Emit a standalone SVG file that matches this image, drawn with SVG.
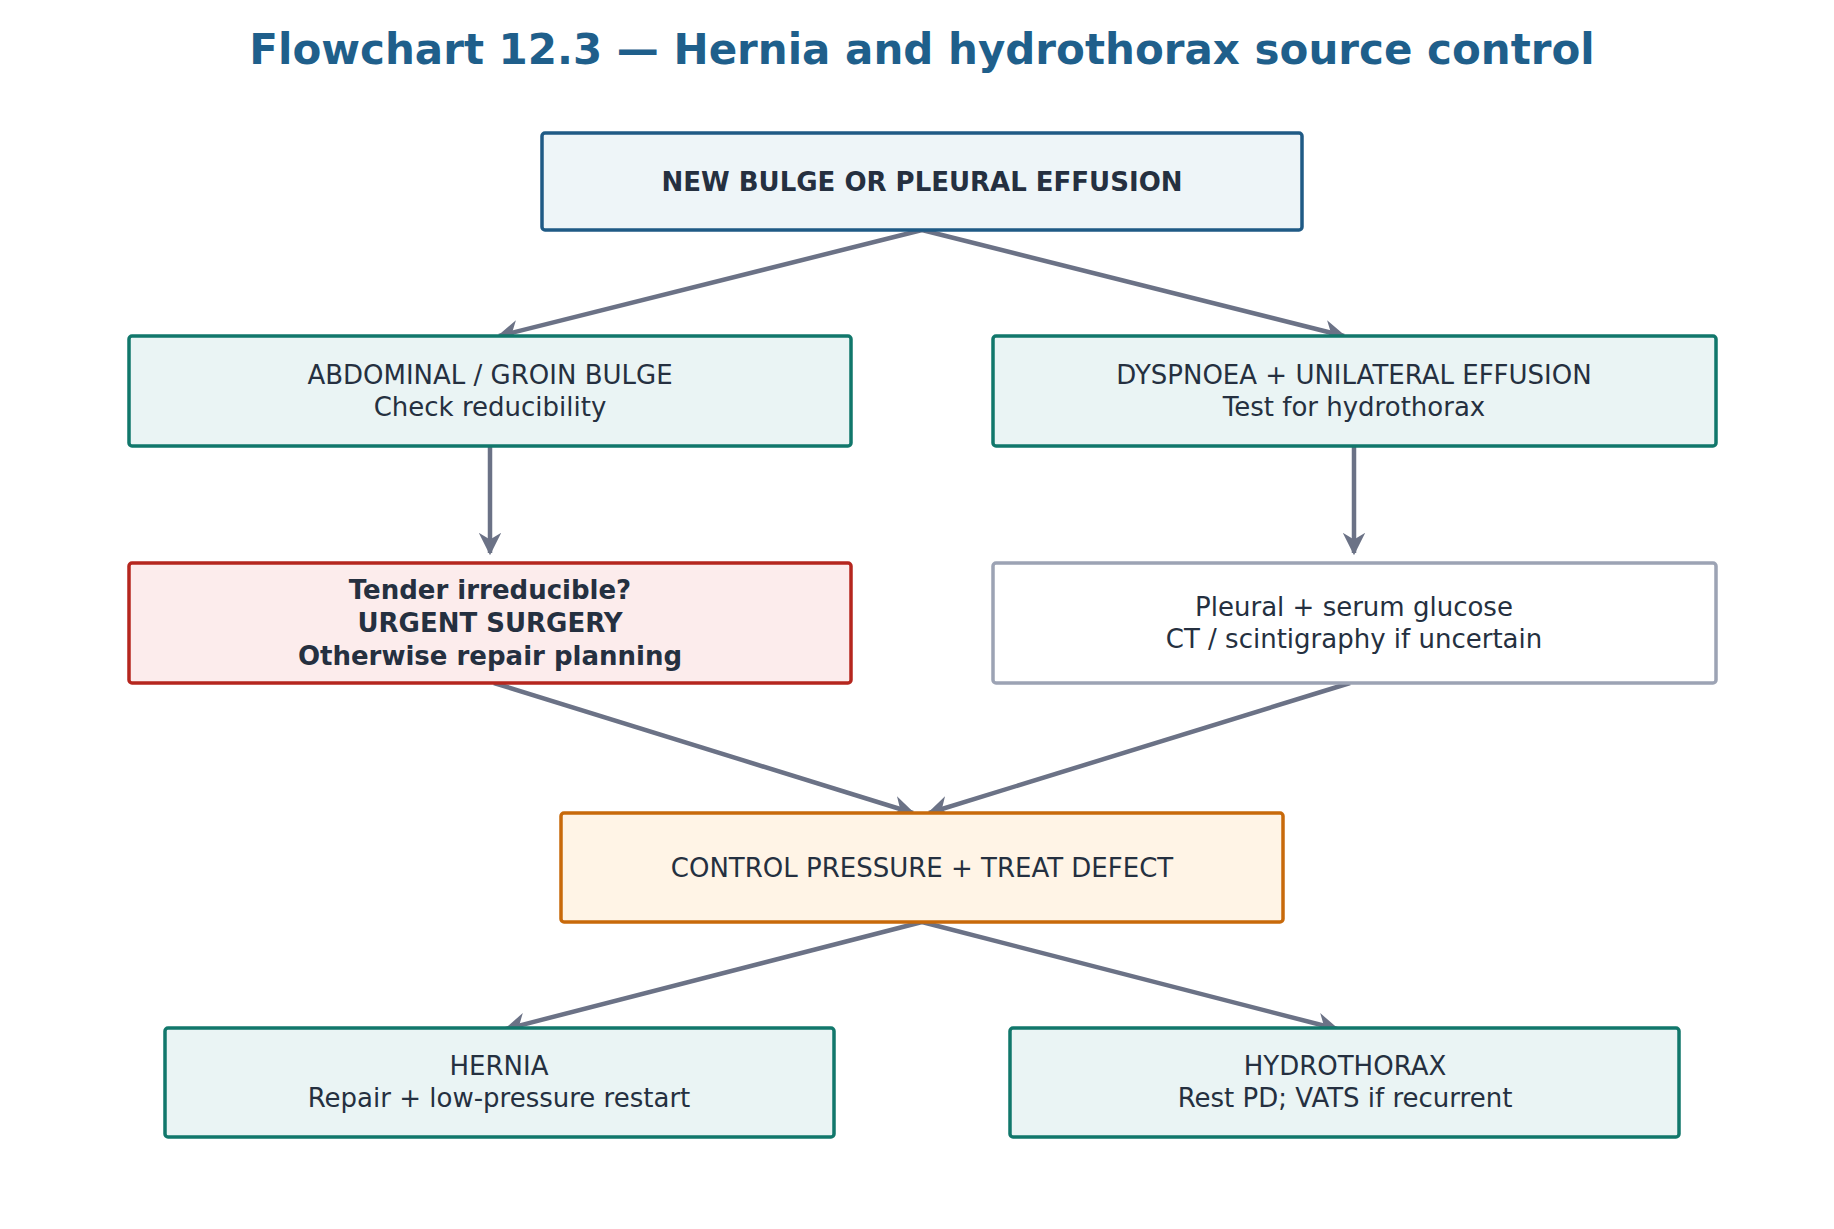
<svg xmlns="http://www.w3.org/2000/svg" width="1834" height="1229" viewBox="0 0 1834 1229">
<style>
text{font-family:"DejaVu Sans","Noto Sans",sans-serif;fill:#253040;text-anchor:middle;font-size:26px}
.b{font-weight:bold}
rect{stroke-width:3.5}
.teal{fill:#eaf4f4;stroke:#11776b}
.conn line{stroke:#6b7286;stroke-width:4.5;marker-end:url(#ah)}
</style>
<defs><marker id="ah" viewBox="0 0 10 10" refX="9" refY="5" markerWidth="5" markerHeight="5" orient="auto" markerUnits="strokeWidth"><path d="M0,0 L10,5 L0,10 L3,5 z" fill="#6b7286"/></marker></defs>
<rect width="1834" height="1229" fill="#fff"/>
<text x="922" y="64" class="b" style="font-size:42px;fill:#1f5f8b">Flowchart 12.3 — Hernia and hydrothorax source control</text>
<g class="conn">
<line x1="922" y1="230" x2="499" y2="336"/>
<line x1="922" y1="230" x2="1344" y2="336"/>
<line x1="490" y1="446" x2="490" y2="553"/>
<line x1="1354" y1="446" x2="1354" y2="553"/>
<line x1="494" y1="683" x2="913" y2="813"/>
<line x1="1350" y1="683" x2="929" y2="813"/>
<line x1="922" y1="922" x2="506" y2="1029"/>
<line x1="922" y1="922" x2="1337" y2="1029"/>
</g>
<g id="n1"><rect x="542" y="133" width="760" height="97" rx="3" fill="#eef5f8" stroke="#1f5a85"/><text x="922" y="191" class="b">NEW BULGE OR PLEURAL EFFUSION</text></g>
<g id="n2"><rect x="129" y="336" width="722" height="110" rx="3" class="teal"/><text x="490" y="384">ABDOMINAL / GROIN BULGE</text><text x="490" y="416">Check reducibility</text></g>
<g id="n3"><rect x="993" y="336" width="723" height="110" rx="3" class="teal"/><text x="1354" y="384">DYSPNOEA + UNILATERAL EFFUSION</text><text x="1354" y="416">Test for hydrothorax</text></g>
<g id="n4"><rect x="129" y="563" width="722" height="120" rx="3" fill="#fcecec" stroke="#b5261e"/><text x="490" y="599" class="b">Tender irreducible?</text><text x="490" y="632" class="b">URGENT SURGERY</text><text x="490" y="665" class="b">Otherwise repair planning</text></g>
<g id="n5"><rect x="993" y="563" width="723" height="120" rx="3" fill="#fff" stroke="#9ca3b4"/><text x="1354" y="616">Pleural + serum glucose</text><text x="1354" y="648">CT / scintigraphy if uncertain</text></g>
<g id="n6"><rect x="561" y="813" width="722" height="109" rx="3" fill="#fff4e6" stroke="#c8690a"/><text x="922" y="877">CONTROL PRESSURE + TREAT DEFECT</text></g>
<g id="n7"><rect x="165" y="1028" width="669" height="109" rx="3" class="teal"/><text x="499" y="1075">HERNIA</text><text x="499" y="1107">Repair + low-pressure restart</text></g>
<g id="n8"><rect x="1010" y="1028" width="669" height="109" rx="3" class="teal"/><text x="1345" y="1075">HYDROTHORAX</text><text x="1345" y="1107">Rest PD; VATS if recurrent</text></g>
</svg>
